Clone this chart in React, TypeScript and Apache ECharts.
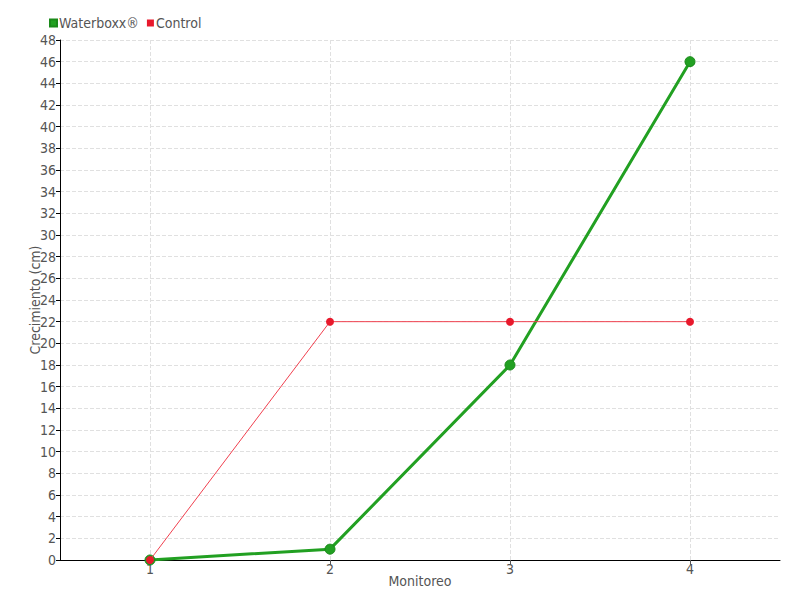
import React, { useEffect, useRef } from "react";
import * as echarts from "echarts";

const categories = ["1", "2", "3", "4"];
const waterboxx = [0, 1, 18, 46];
const control = [0, 22, 22, 22];

const FONT = "'DejaVu Sans Condensed', 'Liberation Sans Narrow', sans-serif";

export default function App() {
  const ref = useRef<HTMLDivElement>(null);
  useEffect(() => {
    if (!ref.current) return;
    const chart = echarts.init(ref.current, undefined, { renderer: "svg" });
    chart.setOption({
      animation: false,
      textStyle: { fontFamily: FONT, color: "#555" },
      legend: {
        left: 44,
        top: 11,
        itemWidth: 7,
        itemHeight: 7,
        itemGap: 8,
        icon: "rect",
        textStyle: { fontFamily: FONT, fontSize: 14, color: "#555", padding: [0, 0, 0, -3] },
        data: ["Waterboxx®", "Control"],
      },
      grid: { left: 60, right: 20, top: 40, bottom: 40, containLabel: false },
      xAxis: {
        type: "category",
        data: categories,
        boundaryGap: true,
        name: "Monitoreo",
        nameLocation: "middle",
        nameGap: 14,
        nameMoveOverlap: false,
        nameTextStyle: { fontFamily: FONT, fontSize: 14, color: "#555" },
        axisLine: { lineStyle: { color: "#000", width: 1 } },
        axisTick: { show: true, alignWithLabel: true, length: 5, lineStyle: { color: "#555" } },
        axisLabel: { fontFamily: FONT, fontSize: 14, color: "#555", margin: 2 },
        splitLine: { show: false },
      },
      yAxis: {
        type: "value",
        min: 0,
        max: 48,
        interval: 2,
        name: "Crecimiento (cm)",
        nameLocation: "middle",
        nameGap: 18,
        nameMoveOverlap: false,
        nameTextStyle: { fontFamily: FONT, fontSize: 14, color: "#555" },
        axisLine: { show: true, lineStyle: { color: "#000", width: 1 } },
        axisTick: { show: true, length: 4, lineStyle: { color: "#000" } },
        axisLabel: { fontFamily: FONT, fontSize: 14, color: "#555", margin: 4 },
        splitLine: { show: true, lineStyle: { color: "#e0e0e0", type: "dashed" } },
      },
      series: [
        {
          name: "grid-v",
          type: "line",
          data: [],
          z: 0,
          silent: true,
          markLine: {
            silent: true,
            z: 0,
            symbol: "none",
            label: { show: false },
            lineStyle: { color: "#e0e0e0", type: "dashed", width: 1 },
            data: categories.map((c) => ({ xAxis: c })),
          },
        },
        {
          name: "Waterboxx®",
          type: "line",
          data: waterboxx,
          symbol: "circle",
          symbolSize: 10,
          itemStyle: { color: "#22a022", borderColor: "#1a8a1a", borderWidth: 1 },
          lineStyle: { color: "#22a022", width: 3 },
          z: 5,
        },
        {
          name: "Control",
          type: "line",
          data: control,
          symbol: "circle",
          symbolSize: 8,
          itemStyle: { color: "#e8192c" },
          lineStyle: { color: "#f0404f", width: 1 },
          z: 6,
        },
      ],
    });
    return () => chart.dispose();
  }, []);
  return <div ref={ref} style={{ width: 800, height: 600, position: "absolute", left: 0, top: 0 }} />;
}
